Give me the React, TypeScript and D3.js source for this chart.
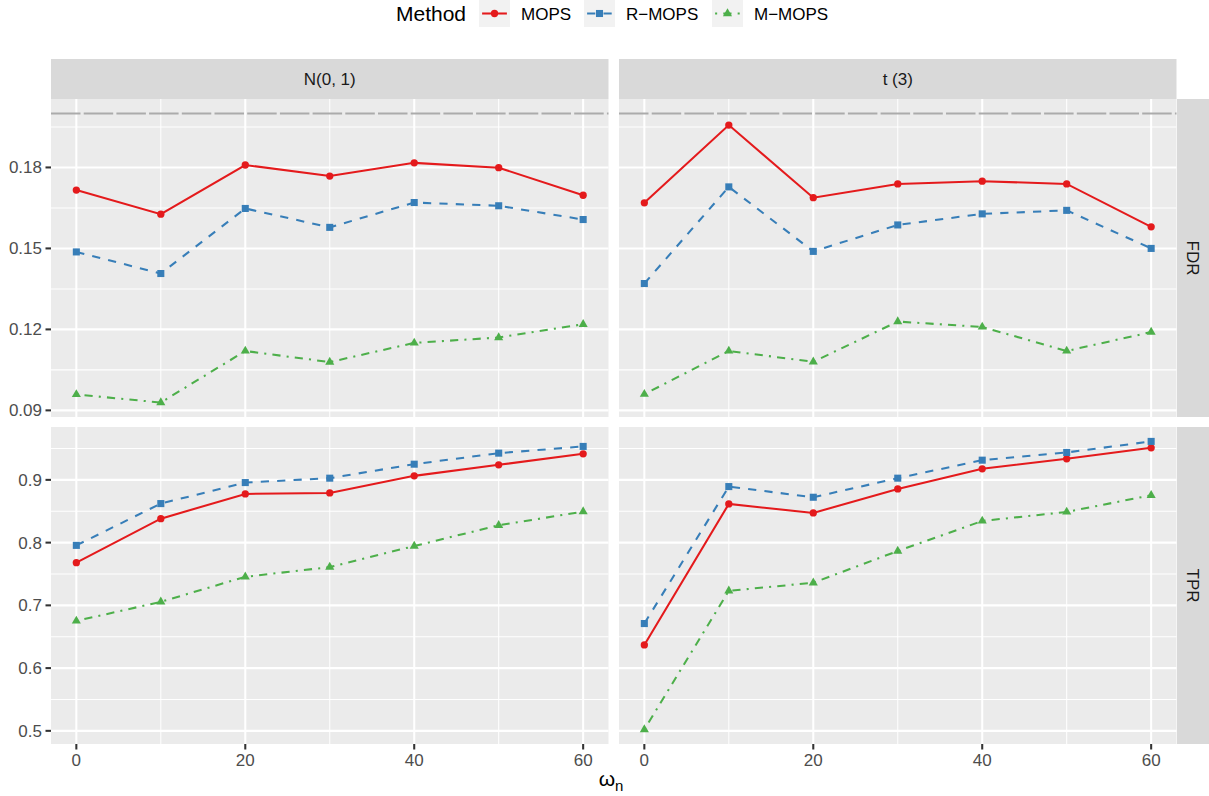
import React from 'react';
import * as d3 from 'd3';

// x values (omega_n) and facet labels
const omegas = [0, 10, 20, 30, 40, 50, 60];
const methods = ['MOPS', 'R\u2212MOPS', 'M\u2212MOPS'];
const distributions = ['N(0, 1)', 't (3)'];
const metrics = ['FDR', 'TPR'];

// FDR, N(0,1)
const fdrNormMOPS = [0.1716, 0.1627, 0.1809, 0.1768, 0.1817, 0.1799, 0.1697];
const fdrNormRMOPS = [0.1487, 0.1407, 0.1648, 0.1578, 0.167, 0.1658, 0.1607];
const fdrNormMMOPS = [0.0959, 0.0929, 0.112, 0.1079, 0.115, 0.117, 0.1219];
// FDR, t(3)
const fdrT3MOPS = [0.1669, 0.1957, 0.1688, 0.1739, 0.1749, 0.1739, 0.158];
const fdrT3RMOPS = [0.137, 0.1728, 0.1489, 0.1587, 0.1628, 0.1641, 0.15];
const fdrT3MMOPS = [0.096, 0.112, 0.108, 0.1229, 0.1209, 0.112, 0.119];
// TPR, N(0,1)
const tprNormMOPS = [0.768, 0.8382, 0.8776, 0.8792, 0.9064, 0.924, 0.9415];
const tprNormRMOPS = [0.7956, 0.8622, 0.8957, 0.9027, 0.925, 0.9426, 0.9533];
const tprNormMMOPS = [0.6752, 0.7056, 0.7455, 0.761, 0.7945, 0.8276, 0.8494];
// TPR, t(3)
const tprT3MOPS = [0.6369, 0.8617, 0.8473, 0.8856, 0.9176, 0.9336, 0.9511];
const tprT3RMOPS = [0.671, 0.8893, 0.8723, 0.9027, 0.9314, 0.9437, 0.9613];
const tprT3MMOPS = [0.502, 0.7232, 0.736, 0.7866, 0.8345, 0.8489, 0.8755];

const fdrLevel = 0.2;

const xTicks = [0, 20, 40, 60];
const fdrTicks = [0.09, 0.12, 0.15, 0.18];
const tprTicks = [0.5, 0.6, 0.7, 0.8, 0.9];
const fdrTickLabels = ['0.09', '0.12', '0.15', '0.18'];
const tprTickLabels = ['0.5', '0.6', '0.7', '0.8', '0.9'];

// [row][col][method]
const values = [
  [[fdrNormMOPS, fdrNormRMOPS, fdrNormMMOPS], [fdrT3MOPS, fdrT3RMOPS, fdrT3MMOPS]],
  [[tprNormMOPS, tprNormRMOPS, tprNormMMOPS], [tprT3MOPS, tprT3RMOPS, tprT3MMOPS]],
];
const rowTicks = [fdrTicks, tprTicks];
const rowTickLabels = [fdrTickLabels, tprTickLabels];

const colors = ['#E41A1C', '#377EB8', '#4DAF4A'];
const dashes = ['none', '8.2,8.2', '2.05,6.15,8.2,6.15'];
const symbols = [
  d3.symbol(d3.symbolCircle, 42)(),
  d3.symbol(d3.symbolSquare, 50)(),
  d3.symbol(d3.symbolTriangle, 36)(),
];

const FONT = '"Liberation Sans", Arial, Helvetica, sans-serif';
const W = 1209;
const H = 796;
const colX = [[51, 608.5], [619, 1176.5]];
const rowY = [[99, 417], [427, 744]];

function minorsOf(ticks: number[], domain: number[]) {
  const step = ticks[1] - ticks[0];
  const out: number[] = [];
  for (let i = -1; i < ticks.length; i++) {
    const v = ticks[0] + step * (i + 0.5);
    if (v > domain[0] && v < domain[1]) out.push(v);
  }
  return out;
}

export default function App() {
  const xScales = colX.map(r => d3.scaleLinear().domain([-3, 63]).range(r));
  const yScales = rowY.map((r, ri) => {
    const all = values[ri].flat(2) as number[];
    if (ri === 0) all.push(fdrLevel);
    const [lo, hi] = d3.extent(all) as [number, number];
    const pad = (hi - lo) * 0.05;
    return d3.scaleLinear().domain([lo - pad, hi + pad]).range([r[1], r[0]]);
  });

  const panels: any[] = [];
  rowY.forEach((ry, ri) => {
    colX.forEach((cx, ci) => {
      const x = xScales[ci];
      const y = yScales[ri];
      const xMinor = minorsOf(xTicks, x.domain());
      const yMinor = minorsOf(rowTicks[ri], y.domain());
      const line = d3.line<number>().x((d, i) => x(omegas[i])).y(d => y(d));
      panels.push(
        <g key={`p${ri}${ci}`}>
          <rect x={cx[0]} y={ry[0]} width={cx[1] - cx[0]} height={ry[1] - ry[0]} fill="#EBEBEB" />
          {yMinor.map(v => (
            <line key={`ym${v}`} x1={cx[0]} x2={cx[1]} y1={y(v)} y2={y(v)} stroke="#fff" strokeWidth={1.03} />
          ))}
          {xMinor.map(v => (
            <line key={`xm${v}`} x1={x(v)} x2={x(v)} y1={ry[0]} y2={ry[1]} stroke="#fff" strokeWidth={1.03} />
          ))}
          {rowTicks[ri].map(v => (
            <line key={`yM${v}`} x1={cx[0]} x2={cx[1]} y1={y(v)} y2={y(v)} stroke="#fff" strokeWidth={2.06} />
          ))}
          {xTicks.map(v => (
            <line key={`xM${v}`} x1={x(v)} x2={x(v)} y1={ry[0]} y2={ry[1]} stroke="#fff" strokeWidth={2.06} />
          ))}
          {ri === 0 && (
            <line x1={cx[0]} x2={cx[1]} y1={y(fdrLevel)} y2={y(fdrLevel)} stroke="#ABABAB"
              strokeWidth={2} strokeDasharray="29.5,3.2" />
          )}
          {values[ri][ci].map((s, mi) => (
            <path key={`l${mi}`} d={line(s) || ''} fill="none" stroke={colors[mi]} strokeWidth={2.06}
              strokeDasharray={dashes[mi]} />
          ))}
          {values[ri][ci].map((s, mi) =>
            s.map((v, i) => (
              <path key={`s${mi}-${i}`} d={symbols[mi]} fill={colors[mi]}
                transform={`translate(${x(omegas[i])},${y(v)})`} />
            ))
          )}
        </g>
      );
    });
  });

  return (
    <svg width={W} height={H} style={{ position: 'absolute', left: 0, top: 0, background: '#fff' }}
      fontFamily={FONT}>
      <rect width={W} height={H} fill="#fff" />

      {/* legend */}
      <text x={396} y={21} fontSize={21} fill="#000">Method</text>
      {methods.map((m, mi) => {
        const kx = [479, 584, 712][mi];
        return (
          <g key={m}>
            <rect x={kx} y={0} width={31} height={27} fill="#F2F2F2" />
            <line x1={kx + 3.1} x2={kx + 27.9} y1={13.5} y2={13.5} stroke={colors[mi]} strokeWidth={2.06}
              strokeDasharray={dashes[mi]} />
            <path d={symbols[mi]} fill={colors[mi]} transform={`translate(${kx + 15.5},13.5)`} />
            <text x={kx + 42} y={19.5} fontSize={17} fill="#000">{m}</text>
          </g>
        );
      })}

      {/* column strips */}
      {colX.map((cx, ci) => (
        <g key={`cs${ci}`}>
          <rect x={cx[0]} y={59} width={cx[1] - cx[0]} height={40} fill="#D9D9D9" />
          <text x={(cx[0] + cx[1]) / 2} y={85} fontSize={17} fill="#1A1A1A" textAnchor="middle">
            {distributions[ci]}
          </text>
        </g>
      ))}

      {/* row strips */}
      {rowY.map((ry, ri) => {
        const cy = (ry[0] + ry[1]) / 2;
        return (
          <g key={`rs${ri}`}>
            <rect x={1177} y={ry[0]} width={40} height={ry[1] - ry[0]} fill="#D9D9D9" />
            <text transform={`translate(1192.5,${cy}) rotate(90)`} y={6} fontSize={17} fill="#1A1A1A"
              textAnchor="middle">{metrics[ri]}</text>
          </g>
        );
      })}

      {panels}

      {/* y axes */}
      {rowY.map((ry, ri) => (
        <g key={`ya${ri}`}>
          {rowTicks[ri].map((v, i) => {
            const yy = yScales[ri](v);
            return (
              <g key={v}>
                <line x1={45.5} x2={51} y1={yy} y2={yy} stroke="#333333" strokeWidth={2.06} />
                <text x={42} y={yy + 6} fontSize={17} fill="#4D4D4D" textAnchor="end">
                  {rowTickLabels[ri][i]}
                </text>
              </g>
            );
          })}
        </g>
      ))}

      {/* x axes */}
      {colX.map((cx, ci) => (
        <g key={`xa${ci}`}>
          {xTicks.map(v => {
            const xx = xScales[ci](v);
            return (
              <g key={v}>
                <line x1={xx} x2={xx} y1={744} y2={749.5} stroke="#333333" strokeWidth={2.06} />
                <text x={xx} y={766} fontSize={17} fill="#4D4D4D" textAnchor="middle">{v}</text>
              </g>
            );
          })}
        </g>
      ))}

      {/* x title */}
      <text x={611} y={786} fontSize={21} fill="#000" textAnchor="middle">
        {'\u03C9'}
        <tspan fontSize={15} dy={5}>n</tspan>
      </text>
    </svg>
  );
}
